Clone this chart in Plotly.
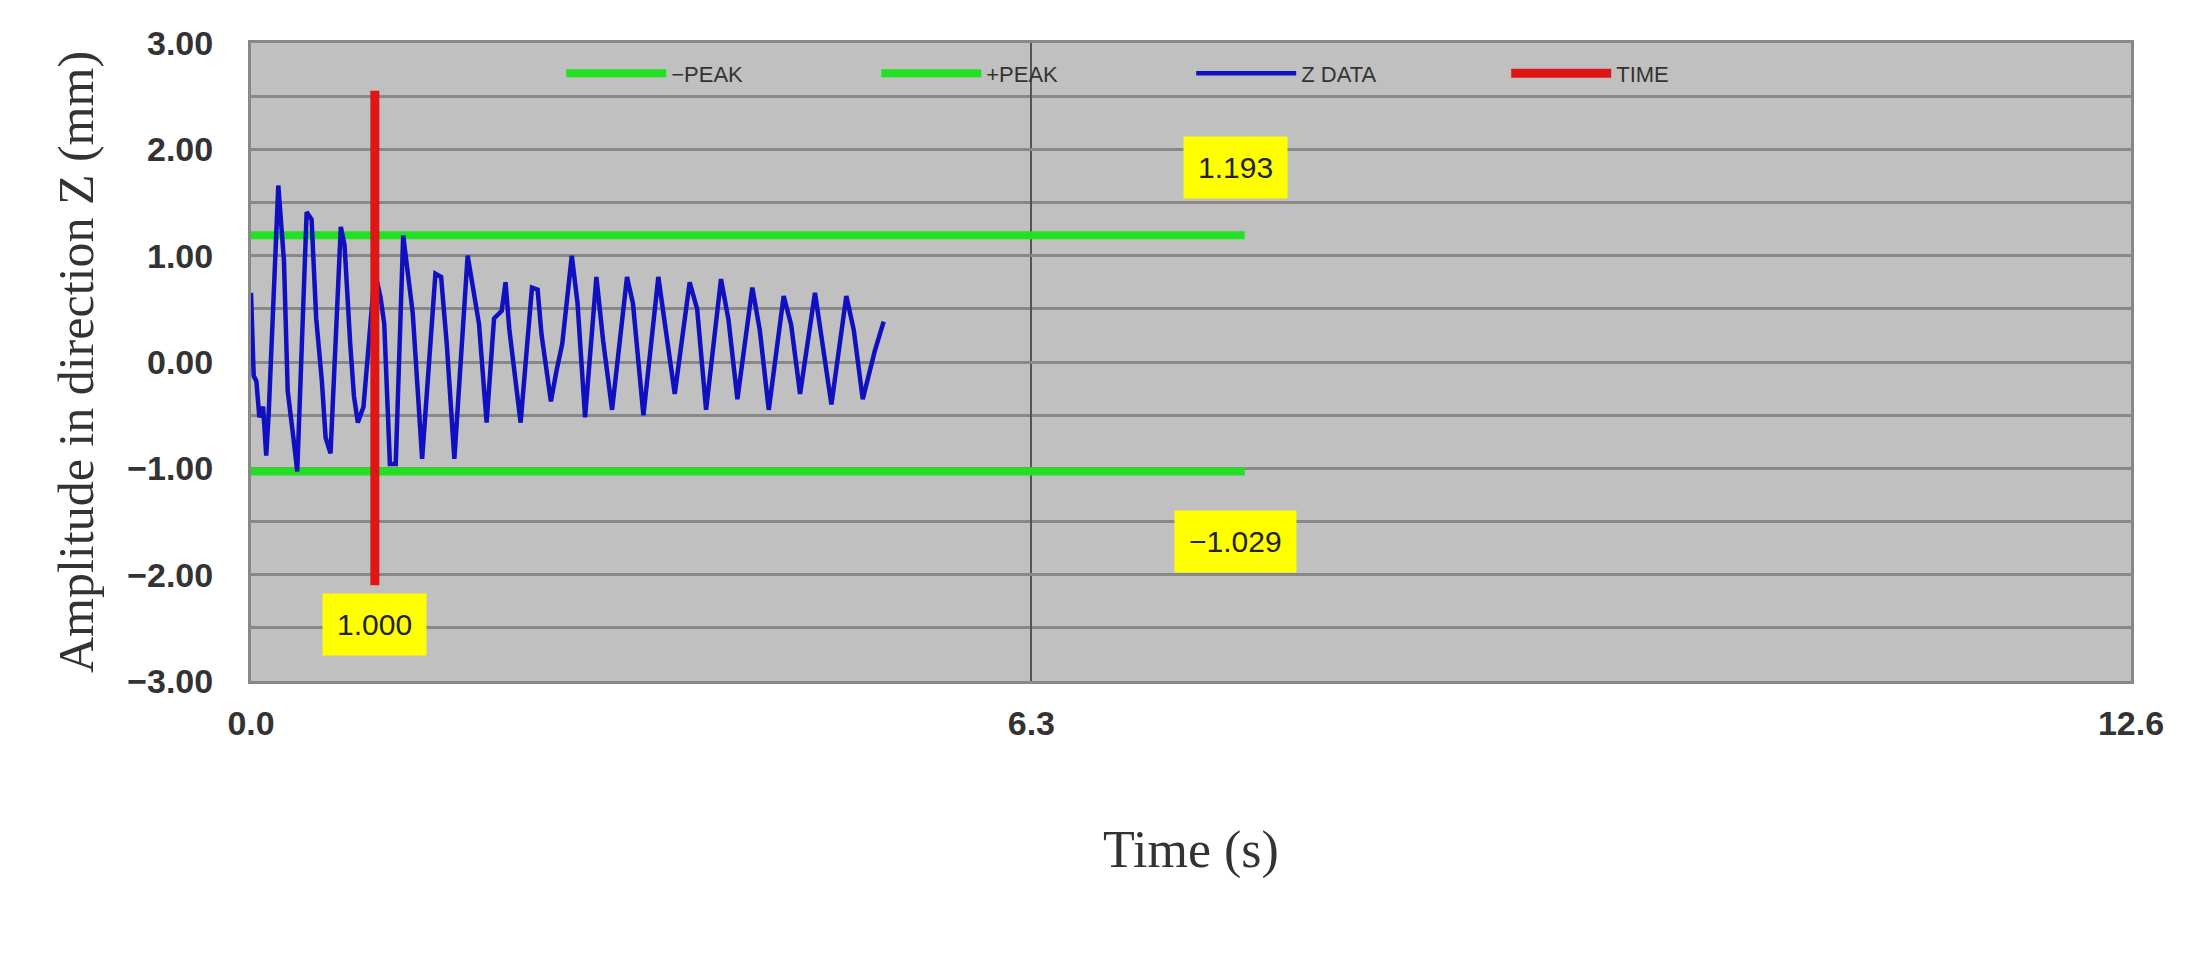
import plotly.graph_objects as go

t_data = [0.00,0.018,0.036,0.056,0.081,0.102,0.119,0.183,0.221,0.246,0.284,0.310,0.373,0.406,0.437,0.475,0.500,0.533,
          0.602,0.627,0.665,0.690,0.716,0.754,0.830,0.868,0.893,0.931,0.970,1.020,1.084,1.147,1.236,1.274,1.312,1.363,
          1.452,1.490,1.528,1.579,1.629,1.680,1.706,1.731,1.807,1.883,1.921,1.947,2.010,2.048,2.086,2.150,2.188,2.239,
          2.315,2.36,2.42,2.52,2.56,2.63,2.73,2.78,2.84,2.94,2.99,3.05,3.15,3.20,3.26,3.36,3.41,3.47,3.57,3.62,3.68,
          3.78,3.83,3.89,3.99,4.04,4.10,4.18,4.24]
z_data = [0.65,-0.13,-0.18,-0.52,-0.42,-0.88,-0.47,1.66,0.95,-0.27,-0.71,-1.03,1.41,1.34,0.41,-0.18,-0.71,-0.86,
          1.27,1.10,0.17,-0.32,-0.57,-0.42,0.85,0.61,0.36,-0.96,-0.96,1.19,0.46,-0.91,0.83,0.80,0.17,-0.91,
          1.00,0.70,0.36,-0.57,0.41,0.48,0.75,0.31,-0.57,0.70,0.68,0.26,-0.37,-0.08,0.17,1.00,0.56,-0.52,
          0.80,0.20,-0.45,0.80,0.55,-0.50,0.80,0.30,-0.30,0.75,0.50,-0.45,0.78,0.40,-0.35,0.70,0.30,-0.45,0.62,0.35,-0.30,
          0.65,0.20,-0.40,0.62,0.30,-0.35,0.10,0.38]
peak_x = [0.0, 6.66]
pos_peak = 1.193
neg_peak = -1.029
time_x = 0.83
time_y = [-2.1, 2.55]
# tick positions as drawn in the reference (middle tick sits left of centre)
x_ticks = [0.0, 5.23, 12.6]
x_tick_text = ["0.0", "6.3", "12.6"]

fig = go.Figure()
fig.add_trace(go.Scatter(x=peak_x, y=[neg_peak]*2, mode="lines", name="−PEAK",
                         line=dict(color="#22e022", width=8)))
fig.add_trace(go.Scatter(x=peak_x, y=[pos_peak]*2, mode="lines", name="+PEAK",
                         line=dict(color="#22e022", width=8)))
fig.add_trace(go.Scatter(x=t_data, y=z_data, mode="lines", name="Z DATA",
                         line=dict(color="#1010c0", width=4.5)))
fig.add_trace(go.Scatter(x=[time_x, time_x], y=time_y, mode="lines", name="TIME",
                         line=dict(color="#e01515", width=9)))

box = dict(bgcolor="#ffff00", font=dict(family="Arial, Liberation Sans", size=30, color="#222"),
           showarrow=False, borderpad=14)
fig.add_annotation(x=6.6, y=1.83, text="1.193", **box)
fig.add_annotation(x=6.6, y=-1.69, text="−1.029", **box)
fig.add_annotation(x=time_x, y=-2.47, text="1.000", **box)

fig.update_layout(
    width=2187, height=972, paper_bgcolor="white", plot_bgcolor="#c0c0c0",
    margin=dict(l=243, r=64, t=35, b=299),
    legend=dict(orientation="h", x=0.165, y=0.985, xanchor="left", yanchor="top",
                bgcolor="rgba(0,0,0,0)", itemwidth=100, entrywidth=200,
                font=dict(family="Arial, Liberation Sans", size=22, color="#333")),
)
fig.update_xaxes(range=[0, 12.6], tickvals=x_ticks, ticktext=x_tick_text,
                 showgrid=True, gridcolor="#555", gridwidth=2, zeroline=False,
                 showline=True, linecolor="#888", linewidth=3, mirror=True, ticks="",
                 ticklabelstandoff=10,
                 tickfont=dict(family="Arial, Liberation Sans", size=34, color="#333", weight="bold"),
                 title=dict(text="Time (s)", font=dict(family="Liberation Serif, serif", size=52, color="#333"),
                            standoff=90))
fig.update_yaxes(range=[-3, 3], dtick=1, tickformat=".2f",
                 showgrid=True, gridcolor="#888", gridwidth=3, zeroline=False,
                 minor=dict(dtick=0.5, showgrid=True, gridcolor="#888", gridwidth=3),
                 showline=True, linecolor="#888", linewidth=3, mirror=True, ticks="",
                 ticklabelstandoff=28,
                 tickfont=dict(family="Arial, Liberation Sans", size=34, color="#333", weight="bold"),
                 title=dict(text="Amplitude in direction Z (mm)",
                            font=dict(family="Liberation Serif, serif", size=50, color="#333"), standoff=18))
fig.write_html("out.html")
